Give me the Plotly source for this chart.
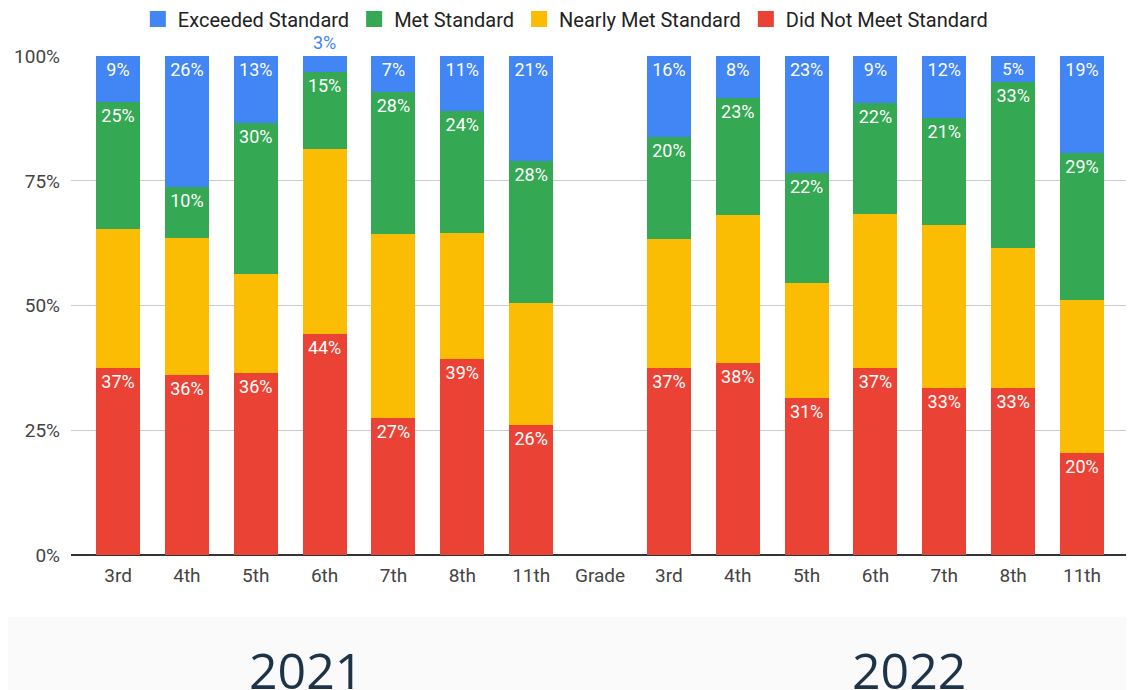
import plotly.graph_objects as go

# grades shown for each year
grades = ['3rd', '4th', '5th', '6th', '7th', '8th', '11th']
years = ['2021', '2022']
y_ticks = [0, 25, 50, 75, 100]
y_tick_text = ['0%', '25%', '50%', '75%', '100%']

# share of students (%) per achievement level, bottom to top of each stack
did_not_2021 = [37.4, 36.1, 36.4, 44.4, 27.4, 39.3, 26.1]
nearly_2021 = [28.0, 27.4, 19.9, 37.0, 37.0, 25.3, 24.5]
met_2021 = [25.4, 10.2, 30.3, 15.4, 28.4, 24.4, 28.4]
exceeded_2021 = [9.2, 26.3, 13.4, 3.2, 7.2, 11.0, 21.0]

did_not_2022 = [37.4, 38.4, 31.4, 37.4, 33.4, 33.4, 20.4]
nearly_2022 = [26.0, 29.8, 23.1, 30.9, 32.8, 28.1, 30.8]
met_2022 = [20.4, 23.4, 22.1, 22.4, 21.4, 33.4, 29.4]
exceeded_2022 = [16.2, 8.4, 23.4, 9.3, 12.4, 5.1, 19.4]

# x positions: 2021 grades, an empty "Grade" slot, then 2022 grades
x_pos = list(range(len(grades))) + list(range(len(grades) + 1, 2 * len(grades) + 1))
tick_vals = list(range(2 * len(grades) + 1))
tick_text = grades + ['Grade'] + grades

series = [
    ('Did Not Meet Standard', did_not_2021 + did_not_2022, '#EA4335', True),
    ('Nearly Met Standard', nearly_2021 + nearly_2022, '#FBBC04', False),
    ('Met Standard', met_2021 + met_2022, '#34A853', True),
    ('Exceeded Standard', exceeded_2021 + exceeded_2022, '#4285F4', True),
]

fig = go.Figure()
for name, vals, color, show_lbl in series:
    # tiny segments get their label outside (only works on the top series)
    pos = ['outside' if (name == 'Exceeded Standard' and v < 4) else 'inside' for v in vals]
    fig.add_trace(go.Bar(
        x=x_pos, y=vals, name=name,
        marker=dict(color=color, line_width=0),
        width=0.64,
        texttemplate='%{y:.0f}%' if show_lbl else '',
        textposition=pos if show_lbl else 'none',
        insidetextanchor='end',
        insidetextfont=dict(color='white', size=18, family='Roboto'),
        outsidetextfont=dict(color=color, size=18, family='Roboto'),
        cliponaxis=False,
        showlegend=False,
        hoverinfo='skip',
    ))

# legend entries with bigger square swatches, top series first
for name, vals, color, show_lbl in reversed(series):
    fig.add_trace(go.Scatter(
        x=[None], y=[None], mode='markers', name=name,
        marker=dict(symbol='square', size=18, color=color),
        hoverinfo='skip',
    ))

# page body adds an 8px margin, so the figure is 8px smaller than the window
fig.update_layout(
    barmode='stack',
    width=1126, height=682,
    margin=dict(l=63, r=6, t=48, b=135, autoexpand=False),
    plot_bgcolor='#fff',
    paper_bgcolor='#fff',
    font=dict(family='Roboto', size=19, color='#444'),
    legend=dict(
        orientation='h',
        traceorder='normal',
        xref='container', yref='paper',
        x=0.495, xanchor='center',
        y=1.074, yanchor='middle',
        bgcolor='rgba(0,0,0,0)',
        font=dict(family='Roboto', size=20, color='#222'),
        itemsizing='trace',
        itemclick=False,
    ),
    showlegend=True,
)

fig.update_yaxes(
    range=[0, 100.05],
    tickvals=y_ticks,
    ticktext=y_tick_text,
    showgrid=True, gridcolor='#cccccc', gridwidth=1,
    zeroline=True, zerolinecolor='#333', zerolinewidth=1.5,
    ticks='', ticklabelstandoff=10,
    tickfont=dict(size=19, color='#444'),
    fixedrange=True,
)

fig.update_xaxes(
    range=[-0.683, 14.668],
    tickvals=tick_vals,
    ticktext=tick_text,
    showgrid=False, zeroline=False,
    ticks='', ticklabelstandoff=7,
    tickfont=dict(size=19, color='#444'),
    fixedrange=True,
)

# light band underneath with the year captions
fig.add_shape(
    type='rect', xref='paper', yref='paper',
    x0=-0.2, x1=1.2, y0=-0.1242, y1=-0.5,
    fillcolor='#fafafa', line_width=0, layer='below',
)
for yr, xp in zip(years, [0.2223, 0.7928]):
    fig.add_annotation(
        text=yr, xref='paper', yref='paper',
        x=xp, y=-0.158, xanchor='center', yanchor='top',
        showarrow=False,
        font=dict(family='Open Sans', size=50, color='#1d3349'),
    )

fig.write_html('out.html')
